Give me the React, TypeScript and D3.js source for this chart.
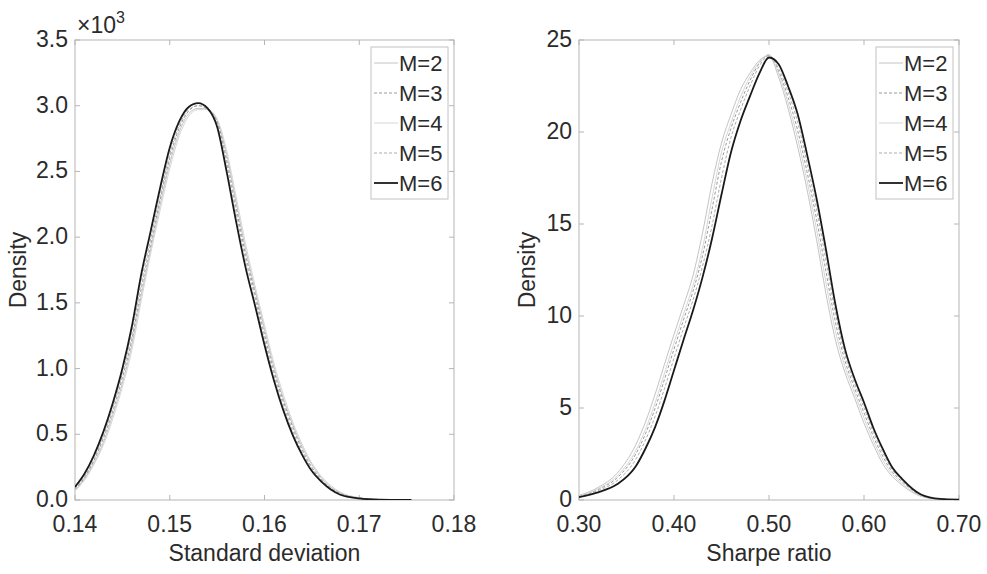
import React from "react";
import * as d3 from "d3";

// ---------- Data ----------
const SERIES_NAMES = ["M=2", "M=3", "M=4", "M=5", "M=6"];

// Left panel: standard deviation (density in units of 10^3)
const SD_X = [0.140, 0.141, 0.142, 0.143, 0.144, 0.145, 0.146, 0.147, 0.148, 0.149, 0.150, 0.151, 0.152, 0.153, 0.154, 0.155, 0.156, 0.157, 0.158, 0.159, 0.160, 0.161, 0.162, 0.163, 0.164, 0.165, 0.166, 0.167, 0.168, 0.170, 0.172, 0.1755];
const SD_M2 = [0.07, 0.16, 0.28, 0.44, 0.65, 0.89, 1.18, 1.56, 1.91, 2.25, 2.56, 2.80, 2.94, 2.98, 2.97, 2.89, 2.63, 2.27, 1.91, 1.60, 1.30, 1.01, 0.77, 0.57, 0.40, 0.27, 0.17, 0.10, 0.055, 0.016, 0.004, 0];
const SD_M3 = [0.08, 0.17, 0.30, 0.47, 0.68, 0.93, 1.22, 1.61, 1.95, 2.29, 2.60, 2.83, 2.96, 3.00, 2.97, 2.88, 2.59, 2.23, 1.87, 1.57, 1.26, 0.98, 0.75, 0.55, 0.38, 0.25, 0.16, 0.09, 0.05, 0.015, 0.004, 0];
const SD_M4 = [0.07, 0.15, 0.27, 0.42, 0.62, 0.86, 1.14, 1.52, 1.88, 2.21, 2.52, 2.77, 2.92, 2.97, 2.97, 2.90, 2.66, 2.31, 1.95, 1.63, 1.33, 1.04, 0.80, 0.59, 0.42, 0.28, 0.18, 0.11, 0.06, 0.018, 0.005, 0];
const SD_M5 = [0.09, 0.18, 0.31, 0.49, 0.71, 0.96, 1.26, 1.66, 1.99, 2.32, 2.63, 2.85, 2.97, 3.00, 2.98, 2.87, 2.56, 2.19, 1.83, 1.54, 1.22, 0.95, 0.72, 0.52, 0.36, 0.24, 0.15, 0.09, 0.045, 0.014, 0.004, 0];
const SD_M6 = [0.10, 0.20, 0.34, 0.52, 0.74, 1.00, 1.32, 1.72, 2.05, 2.38, 2.68, 2.88, 2.99, 3.02, 2.98, 2.84, 2.50, 2.12, 1.77, 1.48, 1.18, 0.91, 0.68, 0.49, 0.34, 0.22, 0.14, 0.08, 0.04, 0.012, 0.003, 0];

// Right panel: Sharpe ratio
const SR_X = [0.30, 0.32, 0.34, 0.36, 0.37, 0.38, 0.39, 0.40, 0.41, 0.42, 0.43, 0.44, 0.45, 0.46, 0.47, 0.48, 0.49, 0.50, 0.51, 0.52, 0.53, 0.54, 0.55, 0.56, 0.57, 0.58, 0.59, 0.60, 0.61, 0.62, 0.63, 0.64, 0.66, 0.68, 0.70];
const SR_M2 = [0.25, 0.68, 1.45, 3.03, 4.24, 5.73, 7.38, 9.0, 10.56, 12.2, 14.5, 17.2, 19.4, 20.95, 22.3, 23.2, 23.9, 24.15, 23.0, 21.3, 19.24, 16.88, 14.16, 11.2, 8.68, 6.92, 5.56, 4.18, 2.98, 1.95, 1.27, 0.81, 0.2, 0.04, 0.01];
const SR_M3 = [0.2, 0.57, 1.2, 2.52, 3.6, 4.97, 6.56, 8.2, 9.79, 11.34, 13.27, 15.8, 18.4, 20.2, 21.6, 22.8, 23.75, 24.2, 23.3, 21.9, 20.12, 17.84, 15.28, 12.4, 9.64, 7.56, 6.08, 4.74, 3.44, 2.35, 1.51, 1.0, 0.25, 0.05, 0.015];
const SR_M4 = [0.22, 0.61, 1.3, 2.7, 3.84, 5.26, 6.89, 8.54, 10.1, 11.65, 13.69, 16.4, 18.9, 20.5, 21.9, 23.0, 23.8, 24.2, 23.2, 21.6, 19.68, 17.36, 14.72, 11.8, 9.16, 7.24, 5.82, 4.46, 3.21, 2.15, 1.39, 0.9, 0.22, 0.045, 0.015];
const SR_M5 = [0.18, 0.51, 1.05, 2.23, 3.26, 4.53, 6.06, 7.71, 9.32, 10.87, 12.7, 14.9, 17.5, 19.7, 21.2, 22.5, 23.6, 24.15, 23.46, 22.2, 20.56, 18.32, 15.84, 13.0, 10.12, 7.88, 6.34, 5.02, 3.67, 2.55, 1.63, 1.07, 0.27, 0.055, 0.018];
const SR_M6 = [0.16, 0.42, 0.85, 1.85, 2.8, 3.95, 5.4, 7.05, 8.7, 10.3, 12.1, 14.2, 16.6, 18.9, 20.6, 21.95, 23.2, 24.05, 23.7, 22.5, 21.0, 18.8, 16.4, 13.6, 10.6, 8.2, 6.6, 5.3, 3.9, 2.75, 1.75, 1.15, 0.3, 0.06, 0.02];

const SD_XTICKS = [0.14, 0.15, 0.16, 0.17, 0.18];
const SD_YTICKS = [0, 0.5, 1.0, 1.5, 2.0, 2.5, 3.0, 3.5];
const SR_XTICKS = [0.30, 0.40, 0.50, 0.60, 0.70];
const SR_YTICKS = [0, 5, 10, 15, 20, 25];

// ---------- Styles ----------
const STYLES = [
  { stroke: "#c4c4c4", width: 1, dash: "" },
  { stroke: "#9a9a9a", width: 1, dash: "3,2" },
  { stroke: "#d6d6d6", width: 1, dash: "" },
  { stroke: "#acacac", width: 1, dash: "3,2" },
  { stroke: "#1a1a1a", width: 1.8, dash: "" },
];

const FONT = "'Liberation Sans', Arial, Helvetica, sans-serif";
const TEXT = "#2b2b2b";
const AXIS = "#b5b5b5";

type PanelProps = {
  left: number; right: number; top: number; bottom: number;
  xDomain: [number, number]; yDomain: [number, number];
  xs: number[]; ys: number[][];
  xTicks: number[]; yTicks: number[];
  xFmt: (v: number) => string; yFmt: (v: number) => string;
  xLabel: string; yLabelX: number; exponent?: boolean;
};

function Panel(p: PanelProps) {
  const x = d3.scaleLinear().domain(p.xDomain).range([p.left, p.right]);
  const y = d3.scaleLinear().domain(p.yDomain).range([p.bottom, p.top]);
  const line = d3.line<[number, number]>()
    .x(d => x(d[0])).y(d => y(d[1]))
    .curve(d3.curveMonotoneX);
  const tl = 5;
  const legX = p.right - 83;
  const legY = 47;
  const midY = (p.top + p.bottom) / 2;
  return (
    <g>
      <defs>
        <clipPath id={`clip-${p.left}`}>
          <rect x={p.left} y={p.top} width={p.right - p.left} height={p.bottom - p.top} />
        </clipPath>
      </defs>
      <rect x={p.left} y={p.top} width={p.right - p.left} height={p.bottom - p.top}
        fill="white" stroke={AXIS} strokeWidth={1} />
      {p.xTicks.map((t, i) => (
        <g key={"xt" + i}>
          <line x1={x(t)} x2={x(t)} y1={p.bottom} y2={p.bottom - tl} stroke={AXIS} />
          <line x1={x(t)} x2={x(t)} y1={p.top} y2={p.top + tl} stroke={AXIS} />
          <text x={x(t)} y={p.bottom + 32} textAnchor="middle" fontSize={23}
            fontFamily={FONT} fill={TEXT}>{p.xFmt(t)}</text>
        </g>
      ))}
      {p.yTicks.map((t, i) => (
        <g key={"yt" + i}>
          <line x1={p.left} x2={p.left + tl} y1={y(t)} y2={y(t)} stroke={AXIS} />
          <line x1={p.right} x2={p.right - tl} y1={y(t)} y2={y(t)} stroke={AXIS} />
          <text x={p.left - 7} y={y(t) + 7} textAnchor="end" fontSize={23}
            fontFamily={FONT} fill={TEXT}>{p.yFmt(t)}</text>
        </g>
      ))}
      <g clipPath={`url(#clip-${p.left})`}>
        {p.ys.map((ys, i) => (
          <path key={"c" + i}
            d={line(p.xs.map((v, j) => [v, ys[j]] as [number, number])) || ""}
            fill="none" stroke={STYLES[i].stroke} strokeWidth={STYLES[i].width}
            strokeDasharray={STYLES[i].dash || undefined} />
        ))}
      </g>
      <text x={(p.left + p.right) / 2} y={p.bottom + 61} textAnchor="middle" fontSize={23}
        fontFamily={FONT} fill={TEXT}>{p.xLabel}</text>
      <text transform={`translate(${p.yLabelX},${midY}) rotate(-90)`} textAnchor="middle"
        fontSize={23} fontFamily={FONT} fill={TEXT}>Density</text>
      {p.exponent && (
        <text x={p.left + 2} y={p.top - 7} fontSize={23} fontFamily={FONT} fill={TEXT}>
          ×10<tspan fontSize={16} dy={-10}>3</tspan>
        </text>
      )}
      <rect x={legX} y={legY} width={77} height={152} fill="white" stroke="#c2c2c2" strokeWidth={1} />
      {SERIES_NAMES.map((name, i) => {
        const cy = legY + 16 + i * 30;
        return (
          <g key={"lg" + i}>
            <line x1={legX + 3} x2={legX + 27} y1={cy} y2={cy}
              stroke={STYLES[i].stroke} strokeWidth={STYLES[i].width}
              strokeDasharray={STYLES[i].dash || undefined} />
            <text x={legX + 28} y={cy + 8} fontSize={22} fontFamily={FONT} fill={TEXT}>{name}</text>
          </g>
        );
      })}
    </g>
  );
}

export default function App() {
  return (
    <svg width={987} height={574} style={{ position: "absolute", left: 0, top: 0, background: "white" }}>
      <rect x={0} y={0} width={987} height={574} fill="white" />
      <Panel left={75} right={454} top={40} bottom={500}
        xDomain={[0.14, 0.18]} yDomain={[0, 3.5]}
        xs={SD_X} ys={[SD_M2, SD_M3, SD_M4, SD_M5, SD_M6]}
        xTicks={SD_XTICKS} yTicks={SD_YTICKS}
        xFmt={d3.format(".2f")} yFmt={d3.format(".1f")}
        xLabel="Standard deviation" yLabelX={26} exponent />
      <Panel left={579} right={959} top={40} bottom={500}
        xDomain={[0.30, 0.70]} yDomain={[0, 25]}
        xs={SR_X} ys={[SR_M2, SR_M3, SR_M4, SR_M5, SR_M6]}
        xTicks={SR_XTICKS} yTicks={SR_YTICKS}
        xFmt={d3.format(".2f")} yFmt={d3.format("d")}
        xLabel="Sharpe ratio" yLabelX={535} />
    </svg>
  );
}
